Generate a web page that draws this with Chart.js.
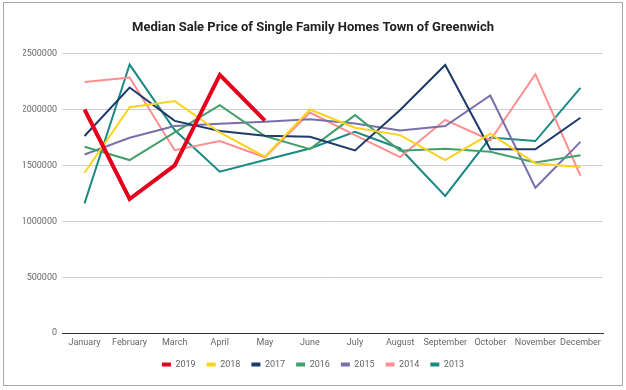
<!DOCTYPE html>
<html>
<head>
<meta charset="utf-8">
<script src="https://cdn.jsdelivr.net/npm/chart.js@4"></script>
<style>
  html, body { margin: 0; padding: 0; background: #fff; }
  #wrap { position: relative; width: 626px; height: 390px; }
  #frame { position: absolute; left: 3px; top: 2px; width: 618px; height: 382px; border: 1px solid #a8a8a8; pointer-events: none; }
  canvas { position: absolute; left: 0; top: 0; }
</style>
</head>
<body>
<div id="wrap">
  <canvas id="c" width="626" height="390"></canvas>
  <div id="frame"></div>
</div>
<script>
const months = ["January","February","March","April","May","June","July","August","September","October","November","December"];
const yTicks = [0, 500000, 1000000, 1500000, 2000000, 2500000];

const s2019 = [2000000, 1200000, 1500000, 2310000, 1900000, null, null, null, null, null, null, null];
const s2018 = [1435000, 2020000, 2075000, 1795000, 1578000, 2000000, 1837000, 1771000, 1548000, 1783000, 1518000, 1486000];
const s2017 = [1763000, 2197000, 1898000, 1808000, 1765000, 1756000, 1634000, 1995000, 2398000, 1644000, 1644000, 1926000];
const s2016 = [1667000, 1548000, 1795000, 2039000, 1763000, 1646000, 1950000, 1632000, 1650000, 1622000, 1527000, 1592000];
const s2015 = [1598000, 1747000, 1852000, 1872000, 1890000, 1914000, 1875000, 1813000, 1852000, 2125000, 1301000, 1711000];
const s2014 = [2247000, 2286000, 1636000, 1718000, 1573000, 1973000, 1771000, 1575000, 1908000, 1725000, 2316000, 1408000];
const s2013 = [1161000, 2402000, 1816000, 1444000, 1548000, 1652000, 1801000, 1652000, 1228000, 1749000, 1718000, 2194000];

const seriesNames = ["2019","2018","2017","2016","2015","2014","2013"];
const seriesData = [s2019, s2018, s2017, s2016, s2015, s2014, s2013];
const colors = ["#e6001c", "#fdd21e", "#1c3a6a", "#43a06b", "#7770ab", "#ff8e8e", "#1b8a85"];
const widths = [4, 2, 2, 2, 2, 2, 2];

const datasets = seriesNames.map((n, i) => ({
  label: n,
  data: seriesData[i],
  borderColor: colors[i],
  backgroundColor: colors[i],
  borderWidth: widths[i],
  pointRadius: 0,
  pointHoverRadius: 0,
  tension: 0,
  spanGaps: false,
  order: i
}));

const font = "Roboto, 'Noto Sans', sans-serif";

new Chart(document.getElementById('c'), {
  type: 'line',
  data: { labels: months, datasets },
  options: {
    responsive: false,
    animation: false,
    devicePixelRatio: 1,
    layout: { padding: { left: 23, right: 23, top: 0, bottom: 11 } },
    plugins: {
      title: {
        display: true,
        text: 'Median Sale Price of Single Family Homes Town of Greenwich',
        color: '#222',
        font: { family: font, size: 13, weight: 'bold' },
        padding: { top: 20, bottom: 18 }
      },
      legend: {
        position: 'bottom',
        labels: {
          boxWidth: 9,
          boxHeight: 4,
          color: '#666',
          font: { family: font, size: 9 },
          padding: 11,
          generateLabels: (chart) => chart.data.datasets.map((ds, i) => ({
            text: ds.label,
            fillStyle: ds.borderColor,
            strokeStyle: ds.borderColor,
            lineWidth: 0,
            hidden: false,
            datasetIndex: i,
            fontColor: '#666'
          }))
        }
      },
      tooltip: { enabled: false }
    },
    scales: {
      x: {
        offset: true,
        grid: { display: false, drawTicks: false },
        border: { display: true, color: '#333', width: 1 },
        afterFit: (scale) => { scale.height -= 3; },
        ticks: { color: '#666', font: { family: font, size: 9 }, padding: 4, maxRotation: 0, autoSkip: false }
      },
      y: {
        min: 0,
        max: 2500000,
        afterBuildTicks: (scale) => { scale.ticks = yTicks.map(v => ({ value: v })); },
        afterFit: (scale) => { scale.width = 39; },
        grid: { color: '#cfcfcf', lineWidth: 1, drawTicks: false },
        border: { display: false },
        ticks: { color: '#666', font: { family: font, size: 9 }, padding: 5, callback: (v) => String(v) }
      }
    }
  }
});
</script>
</body>
</html>
